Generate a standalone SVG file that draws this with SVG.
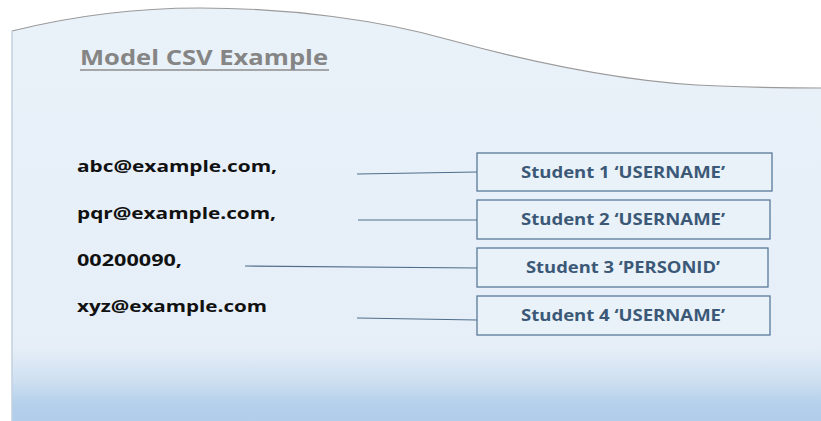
<svg xmlns="http://www.w3.org/2000/svg" width="821" height="421" viewBox="0 0 821 421">
  <defs>
    <linearGradient id="panelFill" x1="0" y1="0" x2="0" y2="1" gradientUnits="objectBoundingBox">
      <stop offset="0" stop-color="#e9f1f9"/>
      <stop offset="0.82" stop-color="#e6eff8"/>
      <stop offset="0.9" stop-color="#cfe0f1"/>
      <stop offset="0.96" stop-color="#b4d0eb"/>
      <stop offset="1" stop-color="#b0cdea"/>
    </linearGradient>
  </defs>
  <style>
    .title { font-family: "Open Sans", "Liberation Sans", sans-serif; font-weight: bold; font-size: 21px; fill: #858585; }
    .value { font-family: "Open Sans", "Liberation Sans", sans-serif; font-weight: bold; font-size: 16px; fill: #111111; }
    .box rect { fill: #e9f1f9; stroke: #5a7a98; stroke-width: 1.3; }
    .box text { font-family: "Open Sans", "Liberation Sans", sans-serif; font-weight: bold; font-size: 16px; fill: #3b5977; text-anchor: middle; }
    .link { stroke: #4f6e8c; stroke-width: 1.2; fill: none; }
  </style>

  <rect x="0" y="0" width="821" height="421" fill="#ffffff"/>

  <!-- wavy-topped panel -->
  <g id="panel">
    <path d="M12,31 C80,14 140,8 200,8 C290,8 380,20 450,40 C560,70 650,84 720,86 C770,88 800,88 821,88 L821,421 L12,421 Z" fill="url(#panelFill)"/>
    <path d="M12,31 C80,14 140,8 200,8 C290,8 380,20 450,40 C560,70 650,84 720,86 C770,88 800,88 821,88" fill="none" stroke="#9a9a9a" stroke-width="1.2"/>
    <line x1="12" y1="31" x2="12" y2="421" stroke="#c3d1df" stroke-width="1.5"/>
  </g>

  <g id="title">
    <text class="title" x="80" y="65" textLength="248" lengthAdjust="spacingAndGlyphs">Model CSV Example</text>
    <line x1="80" y1="70" x2="329" y2="70" stroke="#8c8c8c" stroke-width="1.3"/>
  </g>

  <!-- CSV values -->
  <g id="values">
    <text class="value" x="77" y="172" textLength="200" lengthAdjust="spacingAndGlyphs">abc@example.com,</text>
    <text class="value" x="77" y="219" textLength="199" lengthAdjust="spacingAndGlyphs">pqr@example.com,</text>
    <text class="value" x="77" y="266" textLength="105" lengthAdjust="spacingAndGlyphs">00200090,</text>
    <text class="value" x="77" y="312" textLength="190" lengthAdjust="spacingAndGlyphs">xyz@example.com</text>
  </g>

  <!-- connectors from values to fields -->
  <g id="connectors">
    <path class="link" d="M357,174 L477,172"/>
    <path class="link" d="M358,220 L477,220"/>
    <path class="link" d="M245,266 L477,268"/>
    <path class="link" d="M357,318 L477,320"/>
  </g>

  <g id="field1" class="box">
    <rect x="477" y="153" width="295" height="38"/>
    <text x="623" y="178" textLength="204" lengthAdjust="spacingAndGlyphs">Student 1 ‘USERNAME’</text>
  </g>
  <g id="field2" class="box">
    <rect x="477" y="200" width="293" height="39"/>
    <text x="623" y="225" textLength="204" lengthAdjust="spacingAndGlyphs">Student 2 ‘USERNAME’</text>
  </g>
  <g id="field3" class="box">
    <rect x="477" y="248" width="291" height="39"/>
    <text x="623" y="273" textLength="194" lengthAdjust="spacingAndGlyphs">Student 3 ‘PERSONID’</text>
  </g>
  <g id="field4" class="box">
    <rect x="477" y="296" width="293" height="39"/>
    <text x="623" y="321" textLength="204" lengthAdjust="spacingAndGlyphs">Student 4 ‘USERNAME’</text>
  </g>
</svg>
